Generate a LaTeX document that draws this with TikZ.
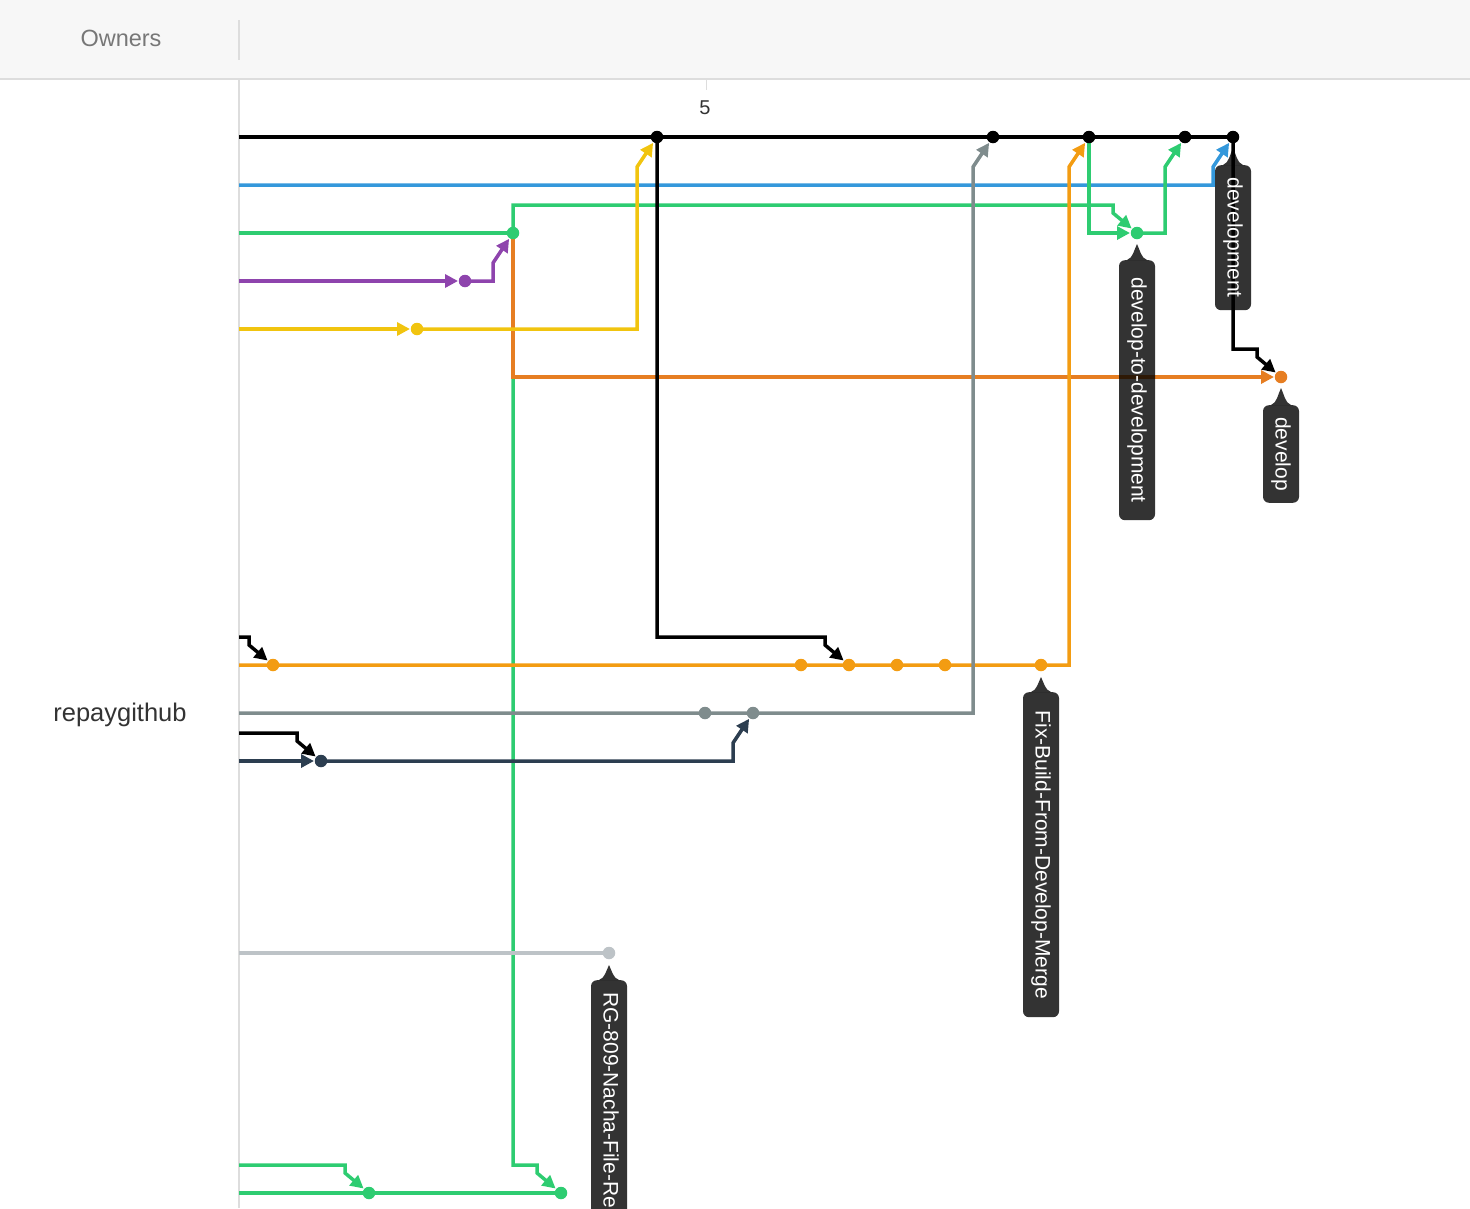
\documentclass[tikz,border=0pt]{standalone}
\usepackage{fontspec}
\setmainfont{Liberation Sans}
\usetikzlibrary{arrows.meta,calc}
\definecolor{cK}{HTML}{000000}
\definecolor{cB}{HTML}{3498DB}
\definecolor{cG}{HTML}{2ECC71}
\definecolor{cP}{HTML}{8E44AD}
\definecolor{cY}{HTML}{F1C40F}
\definecolor{cD}{HTML}{E67E22}
\definecolor{cO}{HTML}{F39C12}
\definecolor{cS}{HTML}{7F8C8D}
\definecolor{cN}{HTML}{2C3E50}
\definecolor{cL}{HTML}{BDC3C7}
\definecolor{cHead}{HTML}{F7F7F7}
\definecolor{cRule}{HTML}{DDDDDD}
\definecolor{cOwn}{HTML}{777777}
\definecolor{cTxt}{HTML}{333333}
\begin{document}
\begin{tikzpicture}[x=1pt,y=-1pt,
  ln/.style={line width=3.5pt,draw=#1},
  ar/.style={line width=3.5pt,draw=#1,-{Triangle[length=13pt,width=13pt]},shorten >=7pt},
  dot/.style={circle,fill=#1,inner sep=0pt,minimum size=12.5pt},
  tagbox/.style={rectangle,rounded corners=6pt,fill=black,fill opacity=0.8,text=white,text opacity=1,
    font=\fontsize{21}{21}\selectfont,minimum height=36pt,inner xsep=12pt,inner ysep=0pt,
    rotate=-90,anchor=west},
  tagtip/.style={fill=black,fill opacity=0.8}]
\useasboundingbox (0,0) rectangle (1470,1208);
% header
\fill[cHead] (0,0) rectangle (1470,78);
\draw[cRule,line width=2pt] (0,79) -- (1470,79);
\draw[cRule,line width=1.5pt] (239,20) -- (239,60);
\draw[cRule,line width=2pt] (239,80) -- (239,1208);
\draw[cRule,line width=1pt] (706,80) -- (706,90);
\node[font=\fontsize{23.5}{23.5}\selectfont,text=cOwn] (owners) at (121,38) {Owners};
\node[font=\fontsize{20}{20}\selectfont,text=cTxt] (five) at (705,108) {5};
\node[font=\fontsize{25.5}{25.5}\selectfont,text=cTxt] (repo) at (120,715) {repaygithub};

% commit dots (positions)
\coordinate (k657) at (657,137);
\coordinate (k993) at (993,137);
\coordinate (k1089) at (1089,137);
\coordinate (k1185) at (1185,137);
\coordinate (k1233) at (1233,137);
\coordinate (g513) at (513,233);
\coordinate (g1137) at (1137,233);
\coordinate (p465) at (465,281);
\coordinate (y417) at (417,329);
\coordinate (d1281) at (1281,377);
\coordinate (o273) at (273,665);
\coordinate (o801) at (801,665);
\coordinate (o849) at (849,665);
\coordinate (o897) at (897,665);
\coordinate (o945) at (945,665);
\coordinate (o1041) at (1041,665);
\coordinate (s705) at (705,713);
\coordinate (s753) at (753,713);
\coordinate (n321) at (321,761);
\coordinate (l609) at (609,953);
\coordinate (g369) at (369,1193);
\coordinate (g561) at (561,1193);
% free left ends
\coordinate (kL) at (239,137);
\coordinate (bL) at (239,185);
\coordinate (gL) at (239,233);
\coordinate (pL) at (239,281);
\coordinate (yL) at (239,329);
\coordinate (kL2) at (239,637);
\coordinate (oL) at (239,665);
\coordinate (sL) at (239,713);
\coordinate (kL3) at (239,733);
\coordinate (nL) at (239,761);
\coordinate (lL) at (239,953);
\coordinate (gL2) at (239,1165);
\coordinate (gL3) at (239,1193);

% connectors
\draw[ln=cK] (kL) -- (k1233);
\draw[ar=cB] (bL) -| ($(k1233)+(-20,30)$) -- (k1233);
\draw[ln=cG] (gL) -- (g513);
\draw[ar=cP] (pL) -- (p465);
\draw[ar=cY] (yL) -- (y417);
\draw[ar=cG] (g513) |- ($(g561)+(-24,-28)$) -- ++(0,8) -- (g561);
\draw[ar=cG] (g513) |- ($(g1137)+(-24,-28)$) -- ++(0,8) -- (g1137);
\draw[ar=cD] (g513) |- (d1281);
\draw[ar=cP] (p465) -| ($(g513)+(-20,30)$) -- (g513);
\draw[ar=cY] (y417) -| ($(k657)+(-20,30)$) -- (k657);
\draw[ar=cK] (k657) |- ($(o849)+(-24,-28)$) -- ++(0,8) -- (o849);
\draw[ar=cK] (kL2) -| ($(o273)+(-24,-20)$) -- (o273);
\draw[ar=cO] (oL) -| ($(k1089)+(-20,30)$) -- (k1089);
\draw[ar=cS] (sL) -| ($(k993)+(-20,30)$) -- (k993);
\draw[ar=cK] (kL3) -| ($(n321)+(-24,-20)$) -- (n321);
\draw[ar=cN] (nL) -- (n321);
\draw[ar=cN] (n321) -| ($(s753)+(-20,30)$) -- (s753);
\draw[ln=cL] (lL) -- (l609);
\draw[ar=cG] (gL2) -| ($(g369)+(-24,-20)$) -- (g369);
\draw[ln=cG] (gL3) -- (g561);
\draw[ar=cG] (k1089) |- (g1137);
\draw[ar=cG] (g1137) -| ($(k1185)+(-20,30)$) -- (k1185);
\draw[ar=cK] (k1233) |- ($(d1281)+(-24,-28)$) -- ++(0,8) -- (d1281);

% dots
\foreach \n in {k657,k993,k1089,k1185,k1233} \node[dot=cK] (d-\n) at (\n) {};
\foreach \n in {g513,g1137,g369,g561} \node[dot=cG] (d-\n) at (\n) {};
\node[dot=cP] (d-p465) at (p465) {};
\node[dot=cY] (d-y417) at (y417) {};
\node[dot=cD] (d-d1281) at (d1281) {};
\foreach \n in {o273,o801,o849,o897,o945,o1041} \node[dot=cO] (d-\n) at (\n) {};
\foreach \n in {s705,s753} \node[dot=cS] (d-\n) at (\n) {};
\node[dot=cN] (d-n321) at (n321) {};
\node[dot=cL] (d-l609) at (l609) {};

% labels
\node[tagbox,minimum width=95pt] (t1) at (1281,405) {develop};
\node[tagbox,minimum width=260pt] (t2) at (1137,260) {develop-to-development};
\node[tagbox,minimum width=145pt] (t3) at (1233,165) {development};
\node[tagbox,minimum width=325pt] (t4) at (1041,692) {Fix-Build-From-Develop-Merge};
\node[tagbox] (t5) at (609,980) {RG-809-Nacha-File-Rep};
\foreach \t/\x/\tp/\tip in {t1/1281/405/388, t2/1137/260/244, t3/1233/165/148, t4/1041/692/677, t5/609/980/965}
  \fill[tagtip] (\x-10,\tp) .. controls (\x-4,\tp-2) and (\x-3,\tip+6) .. (\x,\tip)
     .. controls (\x+3,\tip+6) and (\x+4,\tp-2) .. (\x+10,\tp) -- cycle;
\end{tikzpicture}
\end{document}
